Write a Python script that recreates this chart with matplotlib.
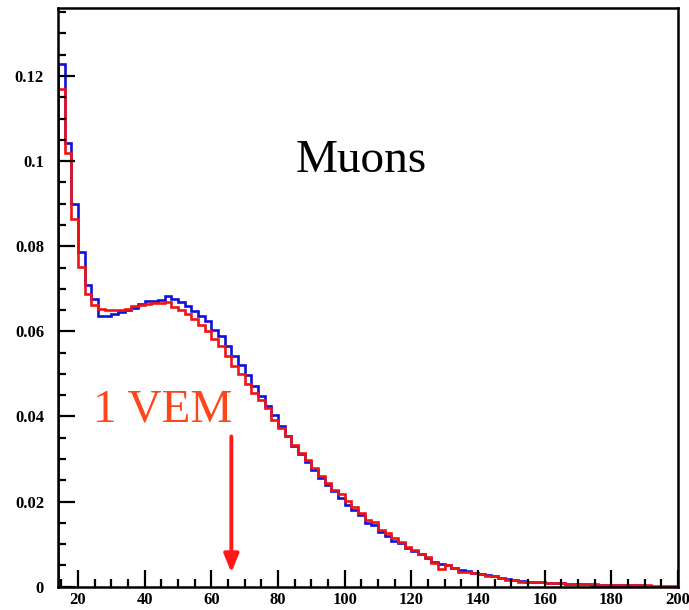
import numpy as np
import matplotlib
matplotlib.use("Agg")
import matplotlib.pyplot as plt
from matplotlib.ticker import FixedLocator, MultipleLocator, FuncFormatter

# Signal charge histograms for muons (2-unit bins starting at 14)
bin_start = 14
bin_width = 2

blue_counts = [
    0.1229, 0.1043, 0.0900, 0.0787, 0.0710, 0.0675, 0.0637, 0.0635, 0.0640, 0.0645,
    0.0650, 0.0655, 0.0664, 0.0671, 0.0672, 0.0673, 0.0684, 0.0676, 0.0668, 0.0660,
    0.0647, 0.0635, 0.0624, 0.0604, 0.0588, 0.0565, 0.0541, 0.0521, 0.0498, 0.0472,
    0.0447, 0.0425, 0.0404, 0.0378, 0.0355, 0.0331, 0.0312, 0.0294, 0.0275, 0.0255,
    0.0239, 0.0224, 0.0208, 0.0192, 0.0180, 0.0169, 0.0149, 0.0145, 0.0129, 0.0119,
    0.0108, 0.0102, 0.0091, 0.0085, 0.0076, 0.0068, 0.0057, 0.0053, 0.0051, 0.0044,
    0.0039, 0.0036, 0.0033, 0.0030, 0.0028, 0.0025, 0.0021, 0.0018, 0.0016, 0.0013,
    0.0012, 0.0011, 0.0010, 0.0009, 0.0008, 0.0008, 0.0007, 0.0006, 0.0006, 0.0006,
    0.0005, 0.0005, 0.0005, 0.0004, 0.0004, 0.0004, 0.0004, 0.0003,
]

red_counts = [
    0.1170, 0.1019, 0.0863, 0.0751, 0.0688, 0.0663, 0.0653, 0.0651, 0.0651, 0.0651,
    0.0653, 0.0659, 0.0663, 0.0664, 0.0667, 0.0667, 0.0668, 0.0657, 0.0650, 0.0640,
    0.0629, 0.0616, 0.0600, 0.0582, 0.0565, 0.0541, 0.0519, 0.0500, 0.0477, 0.0455,
    0.0439, 0.0420, 0.0392, 0.0373, 0.0355, 0.0333, 0.0314, 0.0298, 0.0279, 0.0259,
    0.0243, 0.0228, 0.0217, 0.0202, 0.0188, 0.0174, 0.0157, 0.0153, 0.0133, 0.0126,
    0.0114, 0.0104, 0.0093, 0.0086, 0.0077, 0.0069, 0.0055, 0.0041, 0.0051, 0.0043,
    0.0035, 0.0035, 0.0033, 0.0029, 0.0024, 0.0024, 0.0020, 0.0016, 0.0016, 0.0012,
    0.0012, 0.0011, 0.0010, 0.0009, 0.0008, 0.0008, 0.0007, 0.0007, 0.0006, 0.0006,
    0.0006, 0.0005, 0.0005, 0.0005, 0.0003, 0.0003, 0.0003, 0.0003, 0.0003, 0.0002,
    0.0002, 0.0002, 0.0002,
]

x_ticks = [20, 40, 60, 80, 100, 120, 140, 160, 180, 200]
y_ticks = [0, 0.02, 0.04, 0.06, 0.08, 0.1, 0.12]
vem_position = 66

plt.rcParams["font.family"] = ["Liberation Serif", "DejaVu Serif"]

fig = plt.figure(figsize=(6.89, 6.10), dpi=100)
ax = fig.add_axes([0.0842, 0.0382, 0.8998, 0.9488])

blue_edges = bin_start + bin_width * np.arange(len(blue_counts) + 1)
red_edges = bin_start + bin_width * np.arange(len(red_counts) + 1)

ax.stairs(blue_counts, blue_edges, color="#1010d8", linewidth=1.9, baseline=0)
ax.stairs(red_counts, red_edges, color="#ee1414", linewidth=1.9, baseline=0)

ax.set_xlim(14, 200)
ax.set_ylim(0, 0.136)

for s in ax.spines.values():
    s.set_linewidth(1.8)
    s.set_color("black")

ax.xaxis.set_major_locator(FixedLocator(x_ticks))
ax.xaxis.set_minor_locator(MultipleLocator(5))
ax.yaxis.set_major_locator(FixedLocator(y_ticks))
ax.yaxis.set_minor_locator(MultipleLocator(0.005))


def fmt_y(v, pos):
    if abs(v) < 1e-12:
        return "0"
    return ("%.2f" % v).rstrip("0")


ax.yaxis.set_major_formatter(FuncFormatter(fmt_y))
ax.tick_params(which="both", direction="in", top=False, right=False, width=1.6,
               colors="black")
ax.tick_params(which="major", length=12, labelsize=12)
ax.tick_params(which="minor", length=6)
ax.tick_params(axis="y", which="major", pad=10)
ax.tick_params(axis="x", which="major", pad=4)
for lab in ax.get_xticklabels() + ax.get_yticklabels():
    lab.set_fontweight("bold")

ax.text(105, 0.1002, "Muons", fontsize=34, ha="center", va="center", color="black")
ax.text(45.3, 0.0414, "1 VEM", fontsize=34, ha="center", va="center", color="#ff4519")

ax.annotate("", xy=(vem_position, 0.0033), xytext=(vem_position, 0.0353),
            arrowprops=dict(arrowstyle="-|>,head_length=1.1,head_width=0.45",
                            color="#ff1a1a", linewidth=2.8, shrinkA=0, shrinkB=0))

fig.savefig("out.png", dpi=100)
